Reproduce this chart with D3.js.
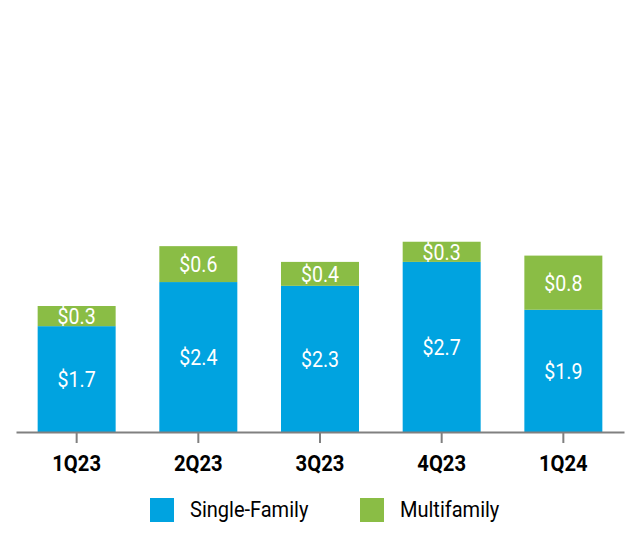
<!DOCTYPE html>
<html><head><meta charset="utf-8">
<script src="https://cdn.jsdelivr.net/npm/d3@7"></script>
<style>
html,body{margin:0;padding:0;background:#fff;}
svg{display:block;}
</style></head>
<body>
<svg id="chart" width="640" height="534"></svg>
<script>
const categories = ["1Q23", "2Q23", "3Q23", "4Q23", "1Q24"];
const singleFamily = [1.68, 2.38, 2.32, 2.70, 1.94];
const multifamily = [0.32, 0.57, 0.38, 0.32, 0.86];
const singleFamilyLabels = ["$1.7", "$2.4", "$2.3", "$2.7", "$1.9"];
const multifamilyLabels = ["$0.3", "$0.6", "$0.4", "$0.3", "$0.8"];
const seriesNames = ["Single-Family", "Multifamily"];
const colors = ["#00A3E0", "#8ABD45"];

const font = "Roboto, 'Liberation Sans', sans-serif";
const svg = d3.select("#chart");

const x = d3.scaleBand().domain(categories).range([16, 624]).paddingInner(0.359).paddingOuter(0.178);
const y = d3.scaleLinear().domain([0, 6]).range([432, 54]);

const rows = categories.map((c, i) => ({cat: c, sf: singleFamily[i], mf: multifamily[i], sfl: singleFamilyLabels[i], mfl: multifamilyLabels[i]}));
const stack = d3.stack().keys(["sf", "mf"])(rows);
const labelKeys = {sf: "sfl", mf: "mfl"};

stack.forEach((layer, li) => {
  const g = svg.append("g");
  g.selectAll("rect").data(layer).join("rect")
    .attr("x", d => x(d.data.cat))
    .attr("width", x.bandwidth())
    .attr("y", d => y(d[1]))
    .attr("height", d => y(d[0]) - y(d[1]))
    .attr("fill", colors[li]);
  g.selectAll("text").data(layer).join("text")
    .attr("transform", d => `translate(${x(d.data.cat) + x.bandwidth() / 2},${(y(d[0]) + y(d[1])) / 2}) scale(0.87,1)`)
    .attr("dy", "0.36em")
    .attr("text-anchor", "middle")
    .attr("fill", "#fff")
    .style("font-family", font)
    .style("font-size", "22.5px")
    .text(d => d.data[labelKeys[layer.key]]);
});

// axis
const axis = svg.append("g").attr("transform", "translate(0,432)")
  .call(d3.axisBottom(x).tickSize(11).tickPadding(8).tickSizeOuter(0));
axis.select(".domain").attr("stroke", "#808080").attr("stroke-width", 2);
axis.selectAll(".tick line").attr("stroke", "#808080").attr("stroke-width", 2);
axis.selectAll(".tick text")
  .attr("y", null).attr("dy", null)
  .attr("transform", "translate(0,39) scale(0.92,1)")
  .attr("fill", "#000")
  .style("font-family", font)
  .style("font-size", "22px")
  .style("font-weight", "bold");

// legend
const legendX = [150, 360];
const legend = svg.append("g");
seriesNames.forEach((name, i) => {
  legend.append("rect").attr("x", legendX[i]).attr("y", 498).attr("width", 24).attr("height", 24).attr("fill", colors[i]);
  legend.append("text")
    .attr("transform", `translate(${legendX[i] + 40},517) scale(0.91,1)`)
    .attr("fill", "#000")
    .style("font-family", font)
    .style("font-size", "22px")
    .text(name);
});
</script>
</body></html>
